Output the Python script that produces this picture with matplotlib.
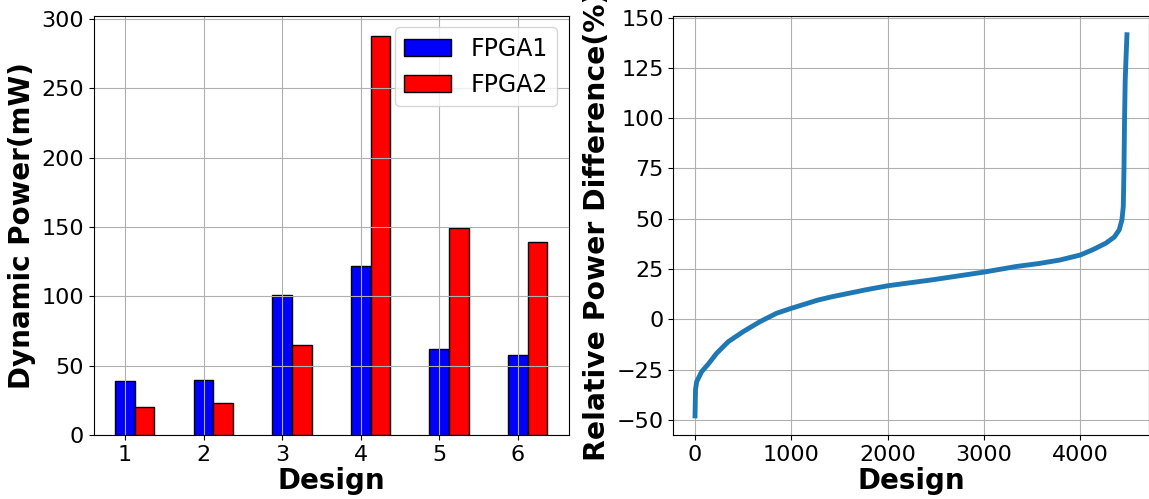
import numpy as np
import matplotlib
matplotlib.use('Agg')
import matplotlib.pyplot as plt

# 左图: 各设计的动态功耗
designs = [1, 2, 3, 4, 5, 6]
fpga1_power = [39, 40, 101, 122, 62, 58]
fpga2_power = [20, 23, 65, 288, 149, 139]

# 右图: 排序后的相对功耗差 (从图中读取的曲线点)
design_idx = [0, 5, 17, 69, 138, 224, 345, 500, 672, 845, 1000, 1121, 1276,
              1427, 1774, 2000, 2469, 3000, 3337, 3575, 3788, 4000, 4128,
              4266, 4352, 4404, 4432, 4446, 4453, 4459, 4466, 4473, 4484]
rel_diff = [-48, -35, -31, -26, -22.2, -16.9, -11.1, -6.1, -1.2, 3.0, 5.5,
            7.3, 9.6, 11.3, 14.7, 16.7, 19.7, 23.5, 26.3, 27.8, 29.5, 32.0,
            34.6, 37.9, 40.9, 44.5, 49.5, 56, 74, 99, 119, 128, 141.5]

plt.rcParams['font.family'] = ['DejaVu Sans']

fig = plt.figure(figsize=(11.49, 4.99), dpi=100)
ax1 = fig.add_axes([0.0814, 0.1283, 0.4138, 0.8403])
ax2 = fig.add_axes([0.5861, 0.1283, 0.4135, 0.8403])

x = np.array(designs)
w = 0.25
ax1.bar(x, fpga1_power, w, color='blue', edgecolor='black', label='FPGA1')
ax1.bar(x + w, fpga2_power, w, color='red', edgecolor='black', label='FPGA2')
ax1.set_xticks(designs)
ax1.set_xlabel('Design', fontsize=20, fontweight='bold', labelpad=2)
ax1.set_ylabel('Dynamic Power(mW)', fontsize=20, fontweight='bold')
ax1.tick_params(labelsize=16)
ax1.legend(fontsize=17, loc='upper right')
ax1.grid(True)

ax2.plot(design_idx, rel_diff, color='#1f77b4', linewidth=3.5)
ax2.set_xlabel('Design', fontsize=20, fontweight='bold', labelpad=2)
ax2.set_ylabel('Relative Power Difference(%)', fontsize=20.3, fontweight='bold')
ax2.set_yticks([-50, -25, 0, 25, 50, 75, 100, 125, 150])
ax2.tick_params(labelsize=16)
ax2.grid(True)

plt.savefig('out.png', dpi=100)
